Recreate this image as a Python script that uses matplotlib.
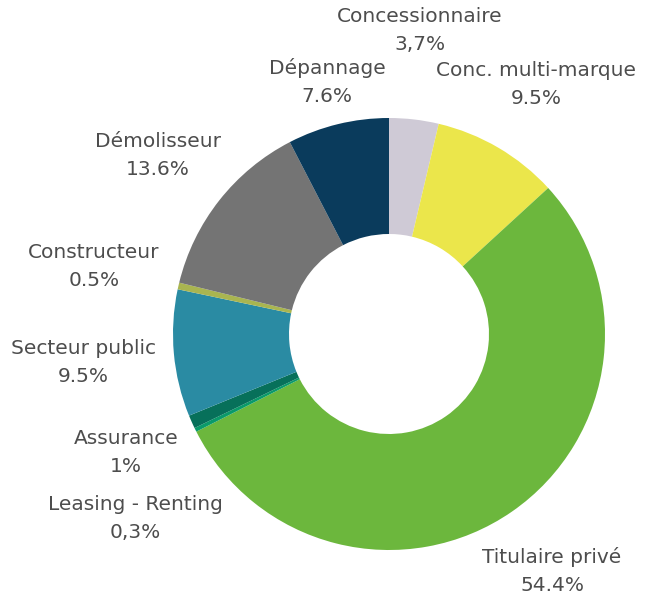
import matplotlib
matplotlib.use("Agg")
import matplotlib.pyplot as plt

categories = ["Concessionnaire", "Conc. multi-marque", "Titulaire privé", "Leasing - Renting",
              "Assurance", "Secteur public", "Constructeur", "Démolisseur", "Dépannage"]
values = [3.7, 9.5, 54.4, 0.3, 1.0, 9.5, 0.5, 13.6, 7.6]
value_labels = ["3,7%", "9.5%", "54.4%", "0,3%", "1%", "9.5%", "0.5%", "13.6%", "7.6%"]
colors = ["#cfcad6", "#ebe64b", "#6cb73d", "#0a9a6a", "#07705a", "#2a8ba3", "#a9b550", "#747474", "#0a3b5c"]

# label block centers in pixels (layout)
label_pos = [(420, 31), (536, 85), (552, 571), (135, 519), (126, 452),
             (83, 362), (94, 267), (158, 155), (327, 82)]

W, H = 648, 603
fig = plt.figure(figsize=(W / 100, H / 100), dpi=100)
cx, cy, R, r_in = 389, 334, 216, 100
ax = fig.add_axes([(cx - R) / W, (H - cy - R) / H, 2 * R / W, 2 * R / H])
ax.pie(values, colors=colors, startangle=90, counterclock=False, radius=1,
       wedgeprops=dict(width=(R - r_in) / R, linewidth=0))
ax.set_xlim(-1, 1)
ax.set_ylim(-1, 1)
ax.set_aspect("equal")
ax.axis("off")

for cat, vl, (px, py) in zip(categories, value_labels, label_pos):
    fig.text(px / W, 1 - py / H, f"{cat}\n{vl}", ha="center", va="center",
             fontsize=14.5, color="#4d4d4d", family="DejaVu Sans", linespacing=1.6)

fig.savefig("out.png", dpi=100)
